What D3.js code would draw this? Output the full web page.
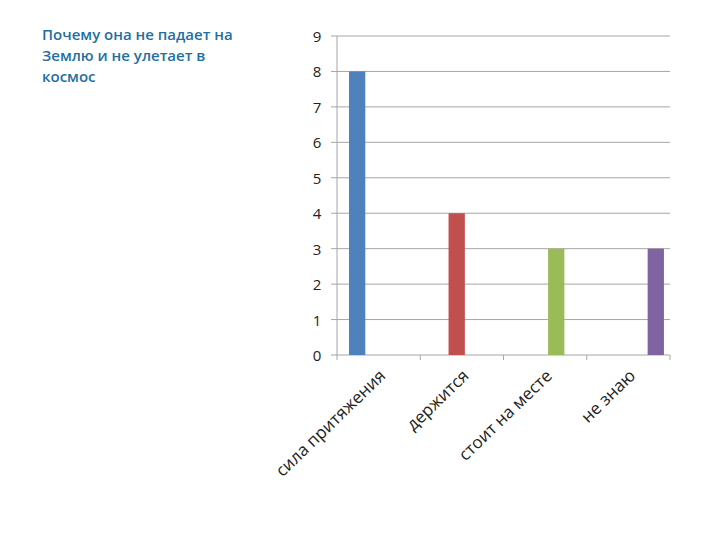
<!DOCTYPE html>
<html><head><meta charset="utf-8">
<script src="https://cdn.jsdelivr.net/npm/d3@7"></script>
<style>body{margin:0;background:#fff}</style>
</head><body>
<svg id="chart" width="720" height="540"></svg>
<script>
var categories = ["сила притяжения", "держится", "стоит на месте", "не знаю"];
var values = [8, 4, 3, 3];
var colors = ["#4f81bd", "#c0504d", "#9bbb59", "#8064a2"];
var yTicks = [0, 1, 2, 3, 4, 5, 6, 7, 8, 9];

var svg = d3.select("#chart");
var plotLeft = 337, plotRight = 670, plotTop = 36, plotBottom = 355;

var x = d3.scaleBand().domain(categories).range([plotLeft, plotRight]);
var y = d3.scaleLinear().domain([0, 9]).range([plotBottom, plotTop]);

svg.append("text").attr("x", 42).attr("y", 40)
    .style("font-family", "Open Sans").style("font-size", "15px").style("font-weight", "600").style("fill", "#1f6fa3")
    .selectAll("tspan").data(["Почему она не падает на", "Землю и не улетает в", "космос"])
    .enter().append("tspan").attr("x", 42).attr("dy", function(d, i){ return i ? 21 : 0; })
    .text(function(d){ return d; });

svg.selectAll(".grid").data(yTicks).enter().append("line")
    .attr("x1", plotLeft - 6).attr("x2", plotRight)
    .attr("y1", function(d){ return y(d); }).attr("y2", function(d){ return y(d); })
    .style("stroke", "#a6a6a6").style("stroke-width", 1);

svg.append("line").attr("x1", plotLeft).attr("x2", plotLeft).attr("y1", plotTop).attr("y2", plotBottom)
    .style("stroke", "#a6a6a6");
svg.selectAll(".xt").data(d3.range(categories.length + 1)).enter().append("line")
    .attr("x1", function(i){ return plotLeft + i * x.bandwidth(); })
    .attr("x2", function(i){ return plotLeft + i * x.bandwidth(); })
    .attr("y1", plotBottom).attr("y2", plotBottom + 5).style("stroke", "#a6a6a6");

svg.selectAll(".yl").data(yTicks).enter().append("text")
    .attr("x", 317).attr("y", function(d){ return y(d) + 6; })
    .attr("text-anchor", "middle")
    .style("font-family", "Open Sans").style("font-size", "15px").style("fill", "#222")
    .text(function(d){ return d; });

var slot = 16.3;
svg.selectAll(".bar").data(values).enter().append("rect")
    .attr("x", function(d, i){ return x(categories[i]) + 12 + i * slot; })
    .attr("width", slot)
    .attr("y", function(d){ return y(d); })
    .attr("height", function(d){ return y(0) - y(d); })
    .style("fill", function(d, i){ return colors[i]; });

svg.selectAll(".xl").data(categories).enter().append("text")
    .attr("transform", function(d){
        return "translate(" + (x(d) + x.bandwidth() / 2 + 8) + "," + (plotBottom + 22) + ") rotate(-44)";
    })
    .attr("text-anchor", "end")
    .style("font-family", "Open Sans").style("font-size", "17px").style("fill", "#222")
    .text(function(d){ return d; });
</script>
</body></html>
